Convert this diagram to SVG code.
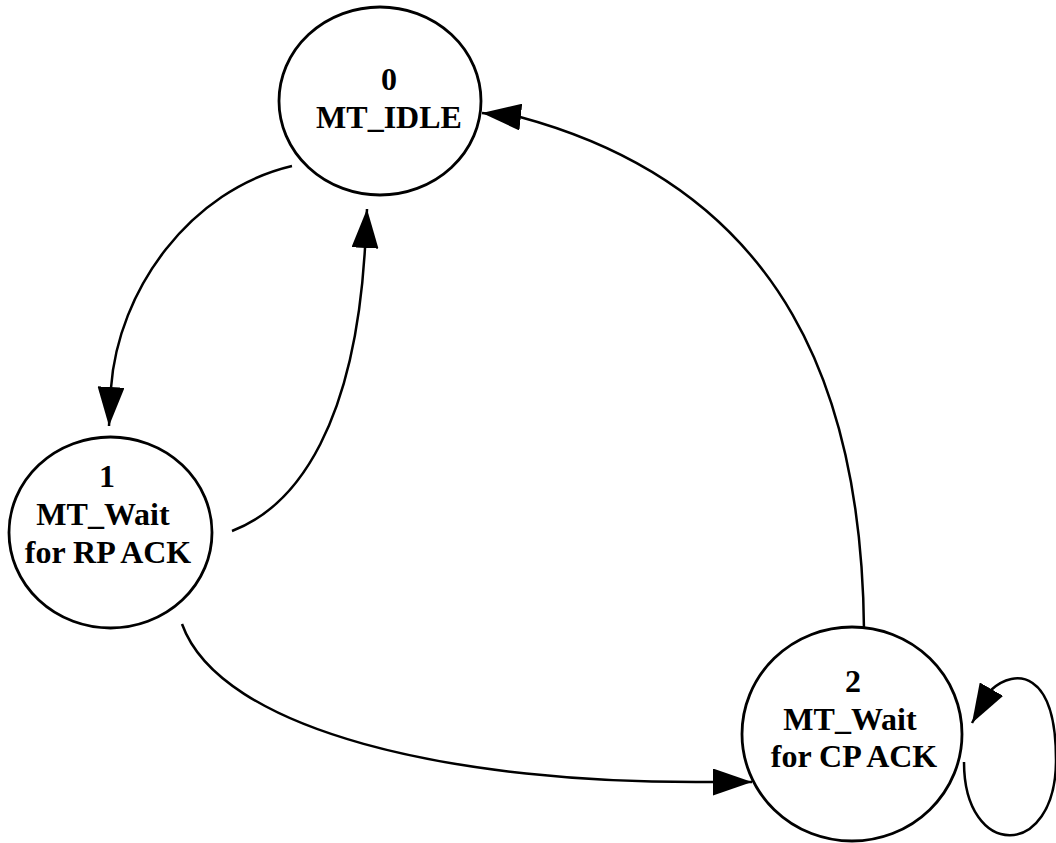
<svg xmlns="http://www.w3.org/2000/svg" width="1056" height="843" viewBox="0 0 1056 843">
<style>
.node{fill:#fff;stroke:#000;stroke-width:2.8}
.lbl{font-family:"Liberation Serif","Times New Roman",serif;font-weight:bold;font-size:32px;fill:#000;text-anchor:middle}
.edge{fill:none;stroke:#000;stroke-width:2.5;marker-end:url(#arr)}
</style>
<defs>
<marker id="arr" markerUnits="userSpaceOnUse" markerWidth="39" markerHeight="27" refX="39" refY="13.5" orient="auto" viewBox="0 0 39 27">
<path d="M0,0 L39,13.5 L0,27 Z" fill="#000"/>
</marker>
</defs>
<rect width="1056" height="843" fill="#fff"/>
<g id="connectors">
<path class="edge" d="M292,166 C190,190 118,290 111,388 L109,426"/>
<path class="edge" d="M232,531 C300,505 355,420 365,248 L367,209"/>
<path class="edge" d="M182,624 C220,730 450,785 717,782 L752,782"/>
<path class="edge" d="M864,630 C862,400 790,190 520,117 L482,113"/>
<path class="edge" d="M964,762 C964,860 1056,860 1056,760 C1056,670 1015,668 991,690 L972,723"/>
</g>
<g id="node0">
<ellipse class="node" cx="380" cy="101" rx="101" ry="94"/>
<text class="lbl" x="389" y="90">0</text>
<text class="lbl" x="389" y="128">MT_IDLE</text>
</g>
<g id="node1">
<ellipse class="node" cx="110.5" cy="532.5" rx="101.5" ry="95.5"/>
<text class="lbl" x="107" y="487">1</text>
<text class="lbl" x="103" y="525">MT_Wait</text>
<text class="lbl" x="108" y="563">for RP ACK</text>
</g>
<g id="node2">
<ellipse class="node" cx="852" cy="734" rx="110" ry="107"/>
<text class="lbl" x="853" y="692">2</text>
<text class="lbl" x="850" y="730">MT_Wait</text>
<text class="lbl" x="854" y="767">for CP ACK</text>
</g>
</svg>
